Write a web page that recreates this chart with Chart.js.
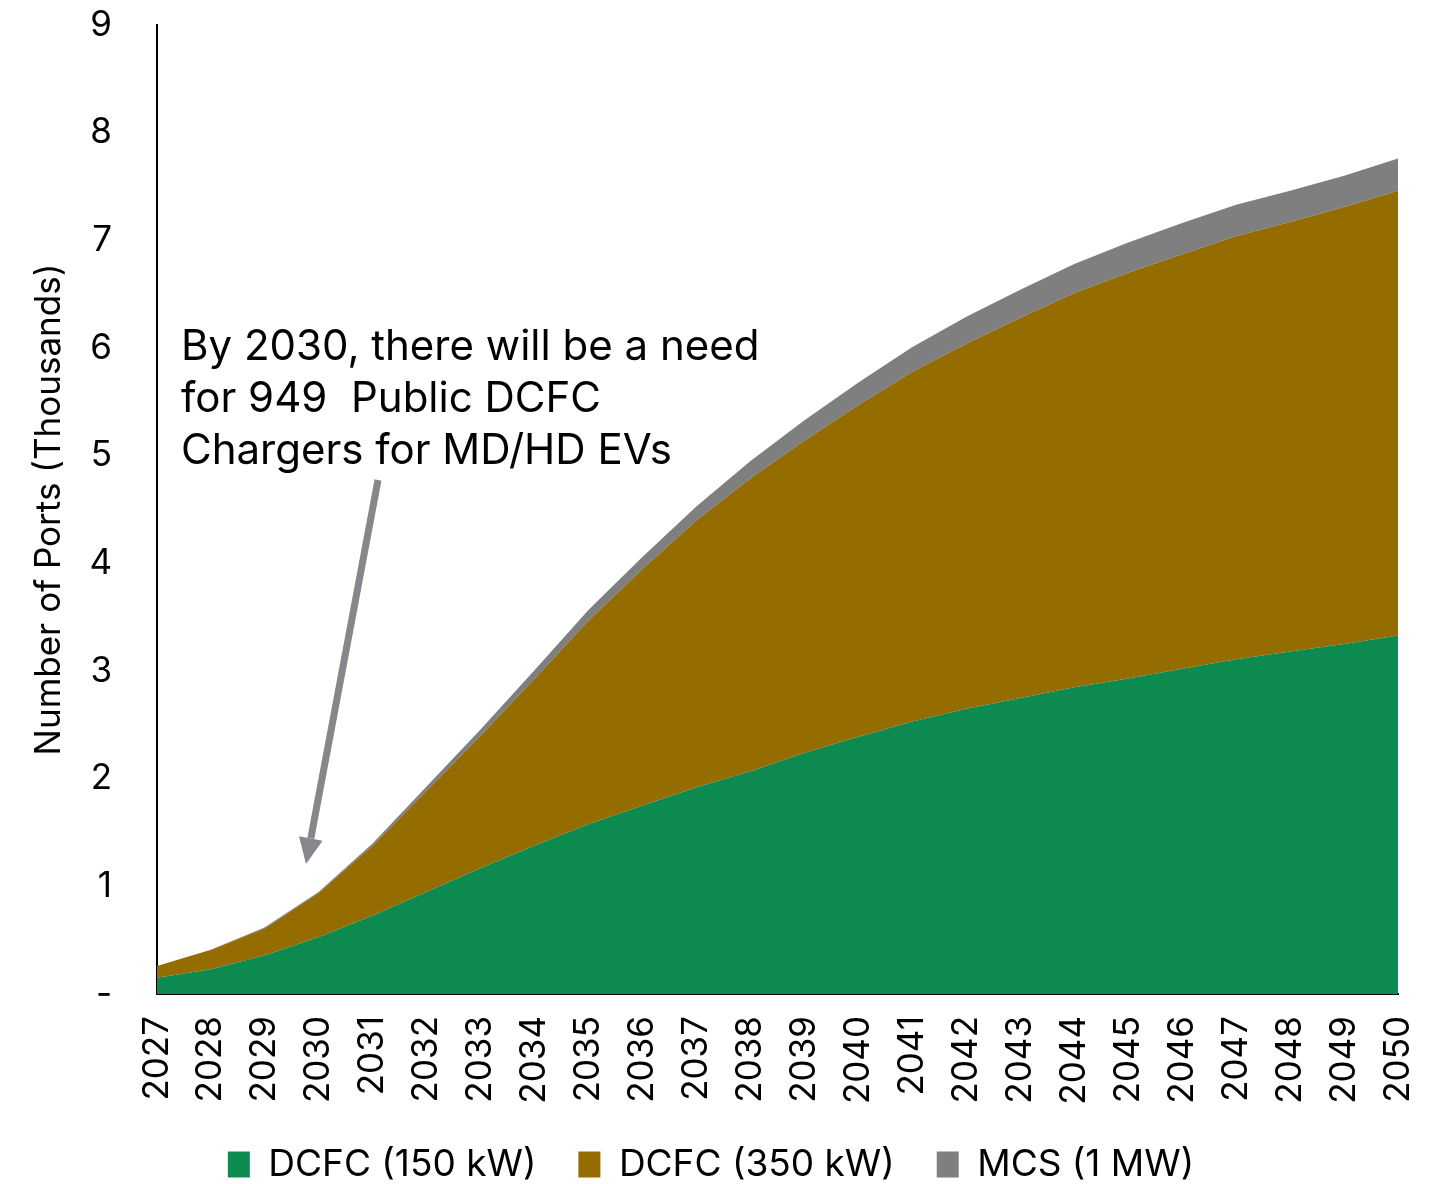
<!DOCTYPE html>
<html>
<head>
<meta charset="utf-8">
<script src="https://cdn.jsdelivr.net/npm/chart.js@4.4.1/dist/chart.umd.min.js"></script>
<style>
  html, body { margin: 0; padding: 0; background: #fff; }
  #wrap { width: 1448px; height: 1184px; }
</style>
</head>
<body>
<div id="wrap"><canvas id="chart" width="1448" height="1184"></canvas></div>
<script>
'use strict'

// years on the x axis
const YEARS = ['2027', '2028', '2029', '2030', '2031', '2032', '2033', '2034', '2035', '2036', '2037', '2038',
  '2039', '2040', '2041', '2042', '2043', '2044', '2045', '2046', '2047', '2048', '2049', '2050'];

// ports, thousands (each series is its own layer of the stack)
const DCFC_150 = [0.15, 0.23, 0.36, 0.53, 0.73, 0.95, 1.17, 1.38, 1.58, 1.75, 1.92, 2.07,
  2.24, 2.39, 2.53, 2.65, 2.75, 2.85, 2.93, 3.02, 3.11, 3.18, 3.25, 3.33];
const DCFC_350 = [0.11, 0.18, 0.25, 0.41, 0.65, 0.94, 1.23, 1.55, 1.89, 2.20, 2.48, 2.72,
  2.90, 3.08, 3.25, 3.39, 3.53, 3.66, 3.77, 3.85, 3.93, 3.99, 4.06, 4.13];
const MCS_1MW = [0, 0, 0.01, 0.01, 0.02, 0.04, 0.06, 0.08, 0.10, 0.11, 0.13, 0.16,
  0.19, 0.21, 0.23, 0.25, 0.26, 0.27, 0.28, 0.29, 0.29, 0.29, 0.29, 0.30];

const SERIES_NAMES = ['DCFC (150 kW)', 'DCFC (350 kW)', 'MCS (1 MW)'];
const Y_TICKS = [0, 1, 2, 3, 4, 5, 6, 7, 8, 9];
const NOTE_LINES = ['By 2030, there will be a need', 'for 949  Public DCFC', 'Chargers for MD/HD EVs'];

const FONT = 'Inter, "Noto Sans", sans-serif';

/** draws the call-out text and its arrow */
const notePlugin = {
  id: 'note',
  afterLayout(chart) {
    // legend counts a trailing gap; nudge it back to the middle
    chart.legend.left += 12;
    chart.legend.right += 12;
  },
  afterDraw(chart) {
    const ctx = chart.ctx;
    ctx.save();
    ctx.fillStyle = '#000';
    ctx.font = '42px ' + FONT;
    ctx.textBaseline = 'alphabetic';
    NOTE_LINES.forEach((line, i) => ctx.fillText(line, 181, 360 + i * 52));

    // arrow
    const x0 = 378, y0 = 480, x1 = 306, y1 = 864;
    const ang = Math.atan2(y1 - y0, x1 - x0);
    const head = 26;
    ctx.strokeStyle = '#87878b';
    ctx.fillStyle = '#87878b';
    ctx.lineWidth = 7;
    ctx.beginPath();
    ctx.moveTo(x0, y0);
    ctx.lineTo(x1 - head * Math.cos(ang), y1 - head * Math.sin(ang));
    ctx.stroke();
    ctx.beginPath();
    ctx.moveTo(x1, y1);
    ctx.lineTo(x1 - head * Math.cos(ang) + 12 * Math.sin(ang), y1 - head * Math.sin(ang) - 12 * Math.cos(ang));
    ctx.lineTo(x1 - head * Math.cos(ang) - 12 * Math.sin(ang), y1 - head * Math.sin(ang) + 12 * Math.cos(ang));
    ctx.closePath();
    ctx.fill();
    ctx.restore();
  }
};

const layer = (label, data, color, fill) => ({
  label: label,
  data: data,
  backgroundColor: color,
  borderColor: color,
  borderWidth: 0,
  pointRadius: 0,
  tension: 0,
  fill: fill
});

new Chart(document.getElementById('chart'), {
  type: 'line',
  data: {
    labels: YEARS,
    datasets: [
      layer(SERIES_NAMES[0], DCFC_150, '#0c8a4f', 'origin'),
      layer(SERIES_NAMES[1], DCFC_350, '#946c00', '-1'),
      layer(SERIES_NAMES[2], MCS_1MW, '#7f7f7f', '-1')
    ]
  },
  options: {
    responsive: false,
    animation: false,
    layout: { padding: { top: 25, right: 50, left: 0, bottom: 0 } },
    plugins: {
      tooltip: { enabled: false },
      legend: {
        position: 'bottom',
        maxHeight: 80,
        labels: {
          color: '#000',
          font: { family: FONT, size: 37 },
          boxWidth: 22,
          boxHeight: 26,
          padding: 42
        }
      }
    },
    scales: {
      x: {
        offset: false,
        grid: { display: false, drawTicks: false },
        border: { display: true, color: '#000', width: 2 },
        ticks: {
          color: '#000',
          font: { family: FONT, size: 35 },
          minRotation: 90,
          maxRotation: 90,
          autoSkip: false,
          padding: 22
        },
        afterFit(scale) {
          scale.height = 110;
          scale.paddingLeft = 0;
          scale.paddingRight = 0;
        }
      },
      y: {
        stacked: true,
        min: 0,
        max: 9,
        grid: { display: false, drawTicks: false },
        border: { display: true, color: '#000', width: 2 },
        afterBuildTicks(scale) { scale.ticks = Y_TICKS.map(v => ({ value: v })); },
        ticks: {
          color: '#000',
          font: { family: FONT, size: 35 },
          padding: 45,
          callback: v => (v === 0 ? '-' : String(v))
        },
        title: {
          display: true,
          text: 'Number of Ports (Thousands)',
          color: '#000',
          font: { family: FONT, size: 35 },
          padding: { top: 28, bottom: 0 }
        },
        afterFit(scale) {
          scale.width = 157;
          scale.paddingTop = 0;
          scale.paddingBottom = 0;
        }
      }
    }
  },
  plugins: [notePlugin]
});
</script>
</body>
</html>
